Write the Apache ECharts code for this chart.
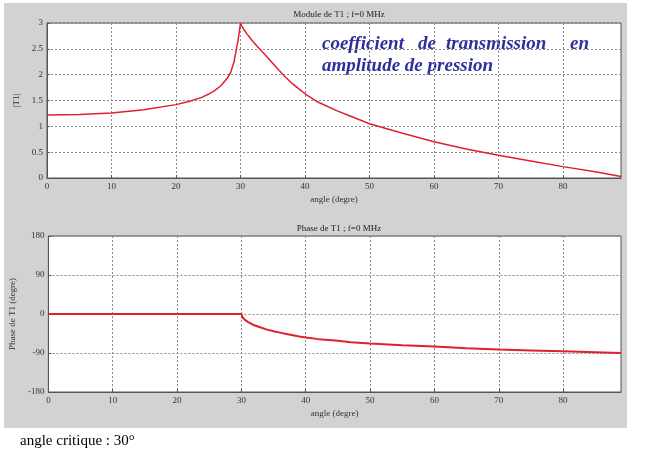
<!DOCTYPE html>
<html>
<head>
<meta charset="utf-8">
<script src="https://cdn.jsdelivr.net/npm/echarts@6/dist/echarts.min.js"></script>
<style>
  html, body { margin: 0; padding: 0; background: #fff; }
  #chart { width: 645px; height: 462px; }
</style>
</head>
<body>
<div id="chart"></div>
<script>
// angle d'incidence (degre)
const angles = [0, 5, 10, 15, 20, 22, 24, 25, 26, 27, 28, 28.5, 29, 29.3, 29.6, 29.8, 30,
  30.2, 30.5, 31, 31.5, 32, 33, 34, 35, 36, 37, 38, 39, 40, 42, 45, 47, 50, 55, 60, 65, 70, 75, 80, 85, 89]
// |T1|
const moduleT1 = [1.22, 1.23, 1.26, 1.32, 1.42, 1.48, 1.56, 1.62, 1.69, 1.79, 1.94, 2.05, 2.25, 2.45, 2.65, 2.82, 3.0,
  2.94, 2.88, 2.79, 2.71, 2.63, 2.49, 2.36, 2.22, 2.08, 1.95, 1.83, 1.73, 1.63, 1.47, 1.3, 1.2, 1.05, 0.87, 0.70, 0.56, 0.44, 0.33, 0.22, 0.12, 0.03]
// phase de T1 (degre)
const phaseT1 = [0, 0, 0, 0, 0, 0, 0, 0, 0, 0, 0, 0, 0, 0, 0, 0, 0,
  -8, -13, -18, -22, -26, -31, -36, -40, -43, -46, -49, -52, -54, -58, -62, -65, -68, -72, -75, -79, -82, -84, -86, -88, -90]
const xTicks = [0, 10, 20, 30, 40, 50, 60, 70, 80]

const serif = 'Liberation Serif'
const axisGray = '#555'
const gridLine = { show: true, lineStyle: { color: '#8a8a8a', type: [2, 2], width: 1 } }
const noteFont = 'italic bold 19px "Liberation Serif"'
const noteColor = '#2e2e9e'

const chart = echarts.init(document.getElementById('chart'))

function xAxis(gridIndex) {
  return {
    type: 'value', gridIndex, min: 0, max: 89, interval: 10,
    name: 'angle (degre)', nameLocation: 'middle', nameGap: 17,
    nameTextStyle: { fontFamily: serif, fontSize: 9, color: '#333' },
    axisLine: { show: true, onZero: false, lineStyle: { color: axisGray } },
    axisTick: { show: true, inside: true, length: 3, lineStyle: { color: axisGray } },
    axisLabel: {
      fontFamily: serif, fontSize: 9, color: '#333', margin: 4, showMaxLabel: false,
      formatter: v => xTicks.includes(v) ? String(v) : ''
    },
    splitLine: gridLine
  }
}

chart.setOption({
  animation: false,
  graphic: [
    { type: 'rect', shape: { x: 4, y: 3, width: 623, height: 425 }, style: { fill: '#d2d2d2' }, z: -10 },
    { type: 'text', left: 322, top: 35, style: { text: 'coefficient', font: noteFont, fill: noteColor } },
    { type: 'text', left: 418, top: 35, style: { text: 'de', font: noteFont, fill: noteColor } },
    { type: 'text', left: 446, top: 35, style: { text: 'transmission', font: noteFont, fill: noteColor } },
    { type: 'text', left: 570, top: 35, style: { text: 'en', font: noteFont, fill: noteColor } },
    { type: 'text', left: 322, top: 57, style: { text: 'amplitude de pression', font: noteFont, fill: noteColor } },
    { type: 'text', left: 20, top: 434, style: { text: 'angle critique : 30°', font: '15px "Liberation Serif"', fill: '#000' } }
  ],
  title: [
    { text: 'Module de T1 ; f=0 MHz', left: 334, top: 5, textAlign: 'center',
      textStyle: { fontFamily: serif, fontSize: 9, fontWeight: 'normal', color: '#222' } },
    { text: 'Phase de T1 ; f=0 MHz', left: 334, top: 219, textAlign: 'center',
      textStyle: { fontFamily: serif, fontSize: 9, fontWeight: 'normal', color: '#222' } }
  ],
  grid: [
    { left: 47, top: 23, width: 574, height: 155, show: true, backgroundColor: '#fff', borderColor: axisGray, borderWidth: 1 },
    { left: 47, top: 236, width: 574, height: 156, show: true, backgroundColor: '#fff', borderColor: axisGray, borderWidth: 1 }
  ],
  xAxis: [xAxis(0), xAxis(1)],
  yAxis: [
    {
      type: 'value', gridIndex: 0, min: 0, max: 3, interval: 0.5,
      name: '|T1|', nameLocation: 'middle', nameGap: 20,
      nameTextStyle: { fontFamily: serif, fontSize: 9, color: '#333' },
      axisLine: { show: true, lineStyle: { color: axisGray } },
      axisTick: { show: true, inside: true, length: 3, lineStyle: { color: axisGray } },
      axisLabel: { fontFamily: serif, fontSize: 9, color: '#333', margin: 4 },
      splitLine: gridLine
    },
    {
      type: 'value', gridIndex: 1, min: -180, max: 180, interval: 90,
      name: 'Phase de T1 (degre)', nameLocation: 'middle', nameGap: 26,
      nameTextStyle: { fontFamily: serif, fontSize: 9, color: '#333' },
      axisLine: { show: true, lineStyle: { color: axisGray } },
      axisTick: { show: true, inside: true, length: 3, lineStyle: { color: axisGray } },
      axisLabel: { fontFamily: serif, fontSize: 9, color: '#333', margin: 4 },
      splitLine: gridLine
    }
  ],
  series: [
    {
      type: 'line', xAxisIndex: 0, yAxisIndex: 0, showSymbol: false, smooth: false,
      data: angles.map((a, i) => [a, moduleT1[i]]),
      lineStyle: { color: '#e0202a', width: 1.5 }
    },
    {
      type: 'line', xAxisIndex: 1, yAxisIndex: 1, showSymbol: false, smooth: false,
      data: angles.map((a, i) => [a, phaseT1[i]]),
      lineStyle: { color: '#e0202a', width: 2 }
    }
  ]
})
</script>
</body>
</html>
